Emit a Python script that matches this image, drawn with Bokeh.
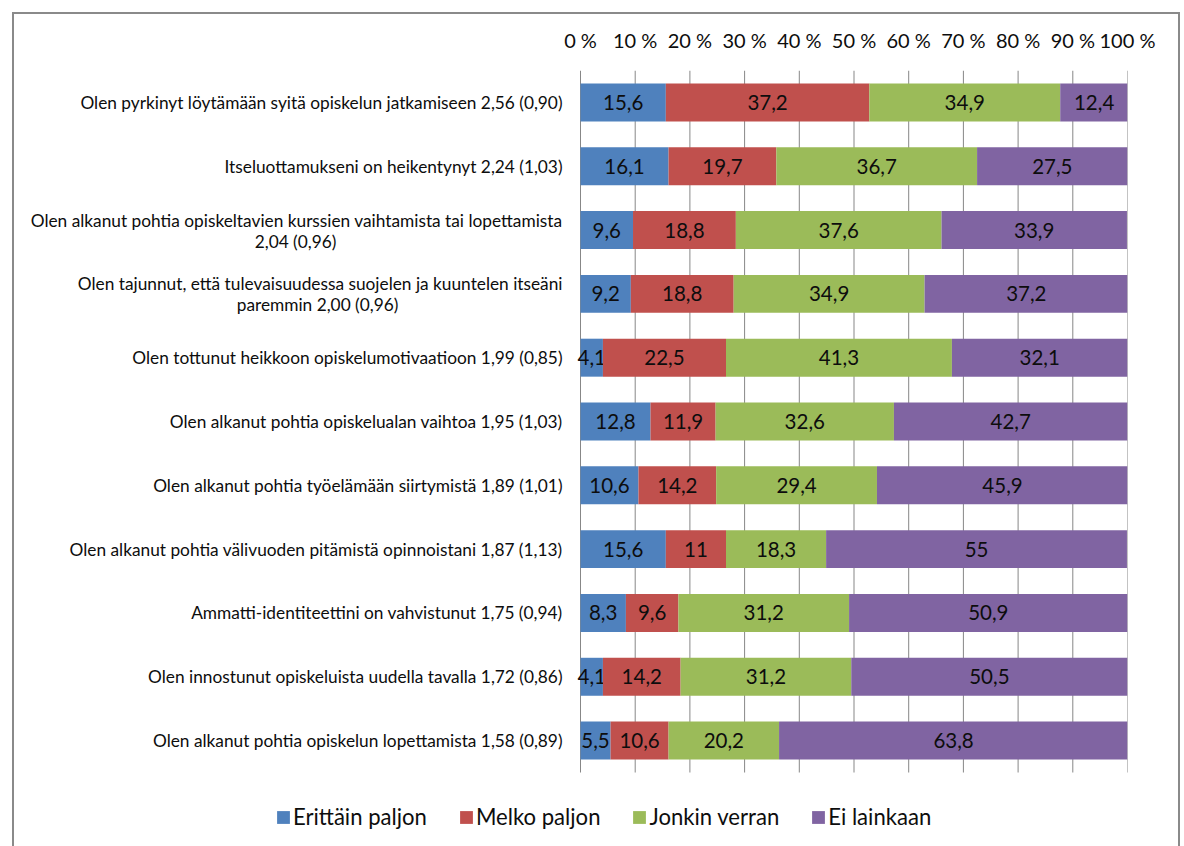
import numpy as np
from bokeh.plotting import figure
from bokeh.models import ColumnDataSource, Range1d, FixedTicker, Legend, LegendItem
from bokeh.core.properties import value
from bokeh.embed import file_html
from bokeh.resources import INLINE

# --- data -------------------------------------------------------------------
statements = [
    "Olen pyrkinyt löytämään syitä opiskelun jatkamiseen 2,56 (0,90)",
    "Itseluottamukseni on heikentynyt 2,24 (1,03)",
    "Olen alkanut pohtia opiskeltavien kurssien vaihtamista tai lopettamista\n2,04 (0,96)",
    "Olen tajunnut, että tulevaisuudessa suojelen ja kuuntelen itseäni\nparemmin 2,00 (0,96)",
    "Olen tottunut heikkoon opiskelumotivaatioon 1,99 (0,85)",
    "Olen alkanut pohtia opiskelualan vaihtoa 1,95 (1,03)",
    "Olen alkanut pohtia työelämään siirtymistä 1,89 (1,01)",
    "Olen alkanut pohtia välivuoden pitämistä opinnoistani 1,87 (1,13)",
    "Ammatti-identiteettini on vahvistunut 1,75 (0,94)",
    "Olen innostunut opiskeluista uudella tavalla 1,72 (0,86)",
    "Olen alkanut pohtia opiskelun lopettamista 1,58 (0,89)",
]
series_names = ["Erittäin paljon", "Melko paljon", "Jonkin verran", "Ei lainkaan"]
erittain_paljon = [15.6, 16.1, 9.6, 9.2, 4.1, 12.8, 10.6, 15.6, 8.3, 4.1, 5.5]
melko_paljon = [37.2, 19.7, 18.8, 18.8, 22.5, 11.9, 14.2, 11, 9.6, 14.2, 10.6]
jonkin_verran = [34.9, 36.7, 37.6, 34.9, 41.3, 32.6, 29.4, 18.3, 31.2, 31.2, 20.2]
ei_lainkaan = [12.4, 27.5, 33.9, 37.2, 32.1, 42.7, 45.9, 55, 50.9, 50.5, 63.8]
x_ticks = [0, 10, 20, 30, 40, 50, 60, 70, 80, 90, 100]

colors = ["#4F81BD", "#C0504D", "#9BBB59", "#8064A2"]
FONT = "Lato"
TEXT = "#0d0d0d"
GRID = "#878787"

# --- layout (canvas pixels) -------------------------------------------------
CANVAS_W, CANVAS_H = 1164, 832
PLOT_LEFT, PLOT_RIGHT = 566, 1113          # where 0 % and 100 % sit
PLOT_TOP, PLOT_BOTTOM = 56, 758            # extent of the bar area
px_per_unit = (PLOT_RIGHT - PLOT_LEFT) / 100.0
x_start = -PLOT_LEFT / px_per_unit

n_rows = len(statements)
row_y = np.arange(n_rows)[::-1].astype(float)       # first statement on top
px_per_row = (PLOT_BOTTOM - PLOT_TOP) / n_rows
y_top = n_rows - 0.5
y_bottom = y_top - (CANVAS_H - PLOT_TOP) / px_per_row


def to_x(canvas_px):
    return (canvas_px - PLOT_LEFT) / px_per_unit


p = figure(
    frame_width=PLOT_RIGHT, frame_height=CANVAS_H - PLOT_TOP,
    min_border_left=0, min_border_right=CANVAS_W - PLOT_RIGHT,
    min_border_top=PLOT_TOP, min_border_bottom=0,
    x_range=Range1d(x_start, 100), y_range=Range1d(y_bottom, y_top),
    x_axis_location="above", y_axis_location=None,
    output_backend="svg", toolbar_location=None,
)
p.styles = {
    "margin-left": "12px", "margin-top": "12px",
    "border-left": "2px solid #8a8a8a", "border-top": "2px solid #8a8a8a",
    "border-right": "2px solid #8a8a8a",
}
p.outline_line_color = None
p.background_fill_color = "white"
p.border_fill_color = "white"
p.grid.visible = False

# x axis on top: only the percent labels
p.xaxis.ticker = FixedTicker(ticks=x_ticks)
p.xaxis.major_label_overrides = {t: f"{t} %" for t in x_ticks}
p.xaxis.axis_line_color = None
p.xaxis.major_tick_line_color = None
p.xaxis.minor_tick_line_color = None
p.xaxis.major_label_standoff = 13
p.xaxis.major_label_text_font = FONT
p.xaxis.major_label_text_font_size = "20px"
p.xaxis.major_label_text_color = TEXT

# vertical gridlines limited to the bar area
p.segment(x0=x_ticks, x1=x_ticks, y0=[-0.5] * len(x_ticks), y1=[y_top] * len(x_ticks),
          line_color=GRID, line_width=1)

# stacked bars
series = [erittain_paljon, melko_paljon, jonkin_verran, ei_lainkaan]
vals = np.array(series, dtype=float)
rights = np.cumsum(vals, axis=0)
lefts = rights - vals

renderers = []
for k, name in enumerate(series_names):
    src = ColumnDataSource(dict(
        y=row_y, left=lefts[k], right=rights[k],
        mid=(lefts[k] + rights[k]) / 2,
        lab=[f"{v:g}".replace(".", ",") for v in vals[k]],
    ))
    r = p.hbar(y="y", left="left", right="right", height=0.595, source=src,
               fill_color=colors[k], line_color=None)
    renderers.append(r)
    p.text(x="mid", y="y", text="lab", source=src, text_align="center",
           text_baseline="middle", text_font=value(FONT), text_font_size="20.5px",
           text_color=TEXT)

# statement labels left of the bars
single_x, single_y, single_t = [], [], []
first_x, first_y, first_t, second_x, second_y, second_t = [], [], [], [], [], []
line_centers = {2: 281, 3: 303}   # centre of the wrapped first line, canvas px
for i, s in enumerate(statements):
    if "\n" in s:
        a, b = s.split("\n")
        first_x.append(to_x(548)); first_y.append(row_y[i]); first_t.append(a)
        second_x.append(to_x(line_centers[i])); second_y.append(row_y[i]); second_t.append(b)
    else:
        single_x.append(to_x(548)); single_y.append(row_y[i]); single_t.append(s)

lab_kw = dict(text_font=value(FONT), text_font_size="17.3px", text_color=TEXT,
              text_baseline="middle")
p.text(x=single_x, y=single_y, text=single_t, text_align="right", **lab_kw)
p.text(x=first_x, y=first_y, text=first_t, text_align="right", y_offset=-10, **lab_kw)
p.text(x=second_x, y=second_y, text=second_t, text_align="center", y_offset=11, **lab_kw)

legend = Legend(
    items=[LegendItem(label=n, renderers=[r]) for n, r in zip(series_names, renderers)],
    orientation="horizontal", location=(261, 16),
    glyph_width=16, glyph_height=16, label_standoff=2, spacing=31,
    label_text_font=FONT, label_text_font_size="22.1px", label_text_color=TEXT,
    border_line_color=None, background_fill_alpha=0, padding=0, margin=0,
)
p.add_layout(legend)

open("out.html", "w").write(file_html(p, INLINE))
